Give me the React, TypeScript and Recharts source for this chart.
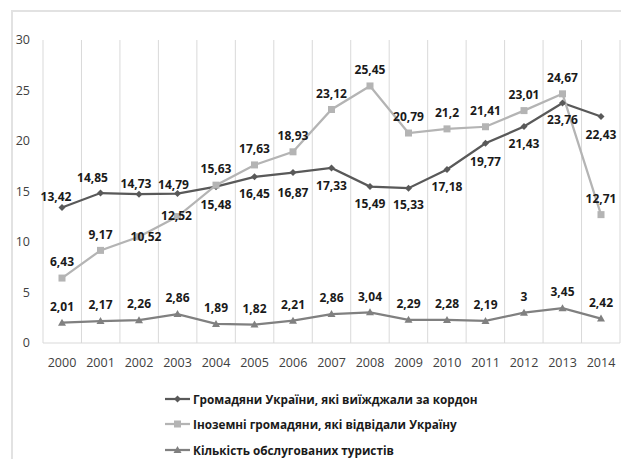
import React from 'react';
import { LineChart, Line, XAxis, YAxis, CartesianGrid, Legend, LabelList } from 'recharts';

const years = ['2000', '2001', '2002', '2003', '2004', '2005', '2006', '2007', '2008', '2009', '2010', '2011', '2012', '2013', '2014'];
const citizensAbroad = [13.42, 14.85, 14.73, 14.79, 15.48, 16.45, 16.87, 17.33, 15.49, 15.33, 17.18, 19.77, 21.43, 23.76, 22.43];
const foreignVisitors = [6.43, 9.17, 10.52, 12.52, 15.63, 17.63, 18.93, 23.12, 25.45, 20.79, 21.2, 21.41, 23.01, 24.67, 12.71];
const servedTourists = [2.01, 2.17, 2.26, 2.86, 1.89, 1.82, 2.21, 2.86, 3.04, 2.29, 2.28, 2.19, 3, 3.45, 2.42];
const yTicks = [0, 5, 10, 15, 20, 25, 30];

const SERIES = [
  { key: 'citizens', name: 'Громадяни України, які виїжджали за кордон', color: '#595959', shape: 'diamond' },
  { key: 'foreign', name: 'Іноземні громадяни, які відвідали Україну', color: '#b4b4b4', shape: 'square' },
  { key: 'tourists', name: 'Кількість обслугованих туристів', color: '#808080', shape: 'triangle' },
];

const data = years.map((year, i) => ({
  year,
  citizens: citizensAbroad[i],
  foreign: foreignVisitors[i],
  tourists: servedTourists[i],
}));

// label offsets from the point (dx, dy of the label centre)
const citizensLabelPos: [number, number][] = [
  [-6, -11], [-8, -15], [-3, -11], [-4, -9], [0, 18], [0, 17], [0, 20], [0, 18],
  [0, 17], [0, 17], [0, 17], [0, 18], [0, 17], [0, 17], [0, 18],
];
const foreignLabelPos: [number, number][] = years.map((_, i) => (i === 2 ? [7, 0] : i === 3 ? [-1, -1] : [0, -16]));
const touristsLabelPos: [number, number][] = years.map(() => [0, -16]);

const FONT = '"Open Sans", sans-serif';
const fmt = (v: number) => String(v).replace('.', ',');

const Marker = ({ shape, cx, cy, color }: { shape: string; cx: number; cy: number; color: string }) => {
  if (shape === 'diamond') {
    return <path d={`M${cx},${cy - 3.5}L${cx + 3.5},${cy}L${cx},${cy + 3.5}L${cx - 3.5},${cy}Z`} fill={color} />;
  }
  if (shape === 'square') {
    return <rect x={cx - 3.5} y={cy - 3.5} width={7} height={7} fill={color} />;
  }
  return <path d={`M${cx},${cy - 4}L${cx + 4},${cy + 3}L${cx - 4},${cy + 3}Z`} fill={color} />;
};

const makeDot = (shape: string, color: string) => (props: any) => {
  const { cx, cy, index } = props;
  if (cx == null || cy == null) return <g key={`d-${index}`} />;
  return (
    <g key={`${shape}-${index}`}>
      <Marker shape={shape} cx={cx} cy={cy} color={color} />
    </g>
  );
};

const makeLabel = (pos: [number, number][]) => (props: any) => {
  const { x, y, value, index } = props;
  const [dx, dy] = pos[index] ?? [0, -16];
  return (
    <text
      x={x + dx}
      y={y + dy}
      dy="0.36em"
      textAnchor="middle"
      fontFamily={FONT}
      fontSize={12}
      fontWeight={700}
      fill="#1a1a1a"
    >
      {fmt(value)}
    </text>
  );
};

const renderLegend = () => (
  <div style={{ fontFamily: FONT, fontSize: 11.75, fontWeight: 700, color: '#1a1a1a' }}>
    {SERIES.map((s) => (
      <div key={s.key} style={{ height: 25.5, display: 'flex', alignItems: 'center' }}>
        <svg width={27} height={10} style={{ marginRight: 1 }}>
          <line x1={0} y1={5} x2={25} y2={5} stroke={s.color} strokeWidth={2.25} />
          <Marker shape={s.shape} cx={12.5} cy={5} color={s.color} />
        </svg>
        <span>{s.name}</span>
      </div>
    ))}
  </div>
);

const gridPositions = ({ offset }: any) =>
  Array.from({ length: years.length + 1 }, (_, i) => offset.left + (i * offset.width) / years.length);

export default function App() {
  const labelPos = [citizensLabelPos, foreignLabelPos, touristsLabelPos];
  return (
    <div style={{ position: 'absolute', left: 0, top: 0, width: 621, height: 459, overflow: 'hidden', background: '#fff' }}>
      <div
        style={{
          position: 'absolute',
          left: 11,
          top: 10,
          width: 700,
          height: 500,
          borderLeft: '2px solid #e2e2e2',
          borderTop: '2px solid #e2e2e2',
        }}
      />
      <LineChart width={621} height={459} data={data} margin={{ top: 40, right: 1, bottom: 86, left: 0 }}>
        <CartesianGrid horizontal={false} stroke="#d9d9d9" verticalCoordinatesGenerator={gridPositions} />
        <XAxis
          dataKey="year"
          padding={{ left: 19, right: 19 }}
          height={30}
          axisLine={{ stroke: '#d9d9d9' }}
          tickLine={false}
          tickMargin={9}
          interval={0}
          tick={{ fill: '#404040', fontSize: 12.5, fontFamily: FONT }}
        />
        <YAxis
          domain={[0, 30]}
          ticks={yTicks}
          width={43}
          axisLine={false}
          tickLine={false}
          tickMargin={7}
          tick={{ fill: '#404040', fontSize: 12.5, fontFamily: FONT }}
        />
        <Legend
          layout="vertical"
          align="center"
          verticalAlign="middle"
          content={renderLegend}
          wrapperStyle={{ left: 165, top: 386, width: 420 }}
        />
        {SERIES.map((s, i) => (
          <Line
            key={s.key}
            type="linear"
            dataKey={s.key}
            name={s.name}
            stroke={s.color}
            strokeWidth={2.25}
            dot={makeDot(s.shape, s.color)}
            activeDot={false}
            isAnimationActive={false}
          >
            <LabelList dataKey={s.key} content={makeLabel(labelPos[i])} />
          </Line>
        ))}
      </LineChart>
    </div>
  );
}
